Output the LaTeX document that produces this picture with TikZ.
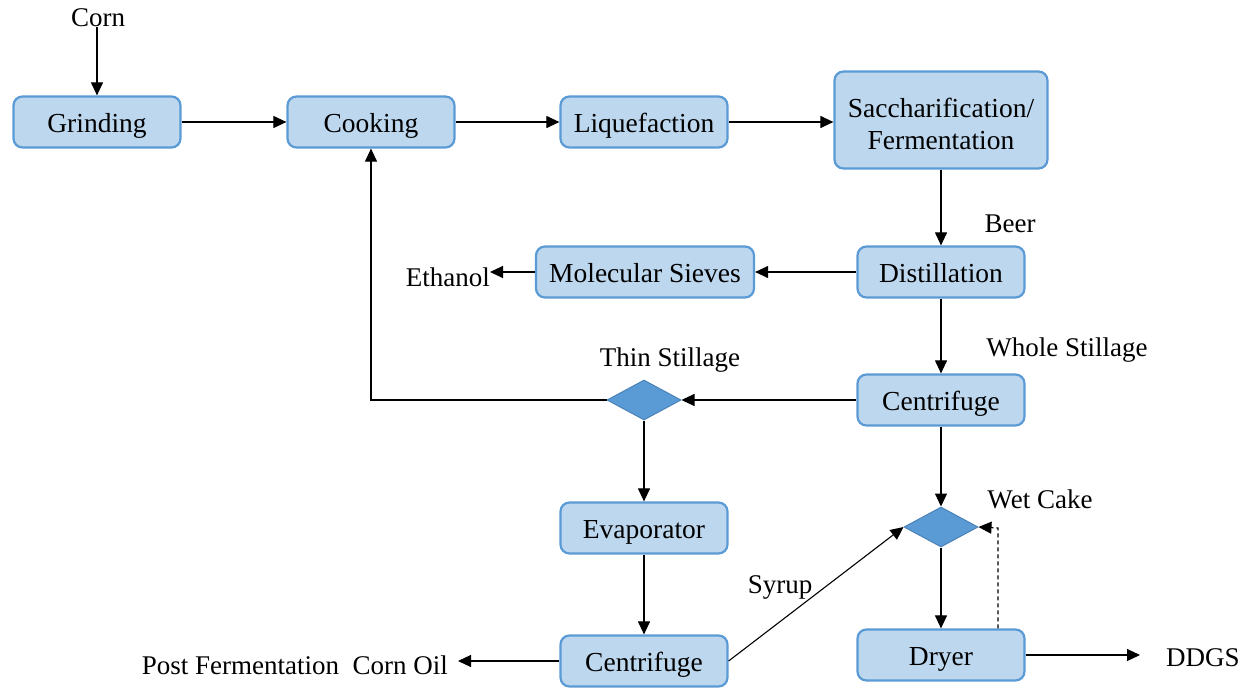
\documentclass[tikz,border=0pt]{standalone}
\usepackage{fontspec}
\setmainfont{Liberation Serif}
\usetikzlibrary{arrows.meta,shapes.geometric}
\definecolor{boxfill}{HTML}{BDD7EE}
\definecolor{boxline}{HTML}{5B9BD5}
\definecolor{decfill}{HTML}{5B9BD5}
\definecolor{decline}{HTML}{4A82B8}
\tikzset{
  boxbase/.style={draw=boxline, fill=boxfill, line width=2.2pt, rounded corners=9pt,
    minimum height=51pt, inner sep=0pt,
    font=\fontsize{27.5}{32}\selectfont},
  proc/.style={boxbase, minimum width=#1, text height=23pt, text depth=3pt},
  proc/.default=167pt,
  decision/.style={diamond, draw=decline, fill=decfill, line width=1pt,
    minimum width=74pt, minimum height=40pt, inner sep=0pt, aspect=1.85},
  lbl/.style={inner sep=0pt, font=\fontsize{27}{31}\selectfont},
  arr/.style={draw=black, line width=1.1pt, -{Triangle[length=13pt,width=12pt]}},
}
\begin{document}
\begin{tikzpicture}[x=1pt,y=-1pt]
\useasboundingbox (0,0) rectangle (1251,689);

% process boxes
\node[proc] (grind) at (97,122) {Grinding};
\node[proc] (cook) at (371,122) {Cooking};
\node[proc] (liq) at (644,122) {Liquefaction};
\node[boxbase, minimum width=213pt, minimum height=97pt, text height=51pt, text depth=25pt]
  (sacch) at (941,120)
  {\setlength{\tabcolsep}{0pt}\begin{tabular}{c}Saccharification/\\Fermentation\end{tabular}};
\node[proc] (dist) at (941,272) {Distillation};
\node[proc=218pt] (mol) at (645,272) {Molecular Sieves};
\node[proc] (cent1) at (941,400) {Centrifuge};
\node[proc] (evap) at (644,528) {Evaporator};
\node[proc] (cent2) at (644,661) {Centrifuge};
\node[proc] (dry) at (941,655) {Dryer};

% decision points
\node[decision] (d1) at (644,400) {};
\node[decision] (d2) at (941,527) {};

% stream labels
\node[lbl] (corn) at (98,18) {Corn};
\node[lbl] at (1010,224) {Beer};
\node[lbl] at (1067,350) {Whole Stillage};
\node[lbl] at (670,360) {Thin Stillage};
\node[lbl] at (1040,499) {Wet Cake};
\node[lbl] at (780,587) {Syrup};
\node[lbl, anchor=east] (eth) at (490,277) {Ethanol};
\node[lbl, anchor=east] (oil) at (448,665) {Post Fermentation\ \ Corn Oil};
\node[lbl, anchor=west] (ddgs) at (1166,658) {DDGS};
\coordinate (ethend) at (490,272);
\coordinate (oilend) at (458,661);
\coordinate (ddgsend) at (1140,655);
\coordinate (wetret) at (998,528);

% connectors
\draw[arr] (grind.north |- corn.south) -- (grind.north);
\draw[arr] (grind) -- (cook);
\draw[arr] (cook) -- (liq);
\draw[arr] (liq.east) -- (liq.east -| sacch.west);
\draw[arr] (sacch.south) -- (dist.north);
\draw[arr] (dist) -- (mol);
\draw[arr] (mol.west) -- (ethend);
\draw[arr] (dist.south) -- (cent1.north);
\draw[arr] (cent1.west) -- (d1.east);
\draw[arr] (d1.west) -| (cook.south);
\draw[arr] (d1.south) -- (evap.north);
\draw[arr] (evap.south) -- (cent2.north);
\draw[arr] (cent2.west) -- (oilend);
\draw[arr] (cent2.east) -- (d2.west);
\draw[arr] (cent1.south) -- (d2.north);
\draw[arr] (d2.south) -- (dry.north);
\draw[arr, dash pattern=on 4pt off 3pt] (dry.north -| wetret) -- (wetret) -- (d2.east);
\draw[arr] (dry.east) -- (ddgsend);
\end{tikzpicture}
\end{document}
